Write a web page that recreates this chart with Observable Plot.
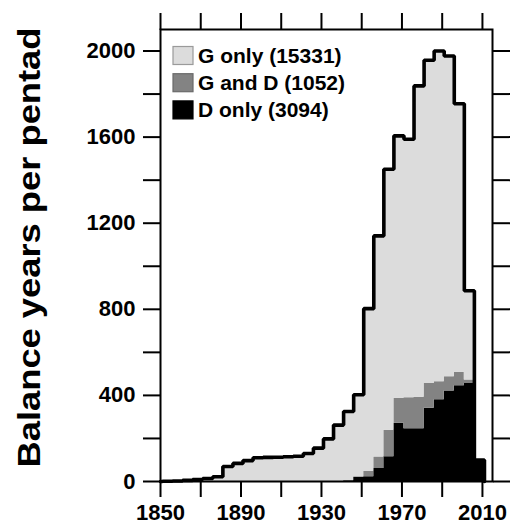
<!DOCTYPE html>
<html><head><meta charset="utf-8">
<script src="https://cdn.jsdelivr.net/npm/d3@7"></script>
<script src="https://cdn.jsdelivr.net/npm/@observablehq/plot@0.6"></script>
<style>
body{margin:0;background:#fff;}
#chart svg{font-family:"Liberation Sans",Arial,Helvetica,sans-serif;font-weight:bold;}
</style>
</head><body><div id="chart"></div>
<script>
const pentadStart = [1851,1856,1861,1866,1871,1876,1881,1886,1891,1896,1901,1906,1911,1916,1921,1926,1931,1936,1941,1946,1951,1956,1961,1966,1971,1976,1981,1986,1991,1996,2001,2006];
const gOnly = [1,2,5,9,14,22,70,84,97,110,112,113,115,117,130,155,198,262,321,381,755,1027,1213,1219,1201,1447,1502,1537,1490,1248,414,0];
const gAndD = [0,0,0,0,0,0,0,0,0,0,0,0,0,0,0,0,0,0,0,2,26,54,123,116,144,146,115,83,67,62,17,0];
const dOnly = [0,0,0,0,0,0,0,0,0,0,0,0,0,0,0,0,0,0,4,20,22,60,115,271,245,245,340,380,420,445,455,100];
const categories = ["D only","G and D","G only"];
const legendLabels = ["G only (15331)","G and D (1052)","D only (3094)"];
const legendKeys = ["G only","G and D","D only"];
const fills = {"G only":"#dcdcdc","G and D":"#838383","D only":"#000000"};
const swatchStroke = {"G only":"#9a9a9a","G and D":"#6a6a6a","D only":"#000000"};
const xTicks = [1850,1870,1890,1910,1930,1950,1970,1990,2010];
const xLabels = [1850,1890,1930,1970,2010];
const yTicks = [0,200,400,600,800,1000,1200,1400,1600,1800,2000];
const yLabels = [0,400,800,1200,1600,2000];
const yTitle = "Balance years per pentad";
const pentadWidth = 5;

const series = {"G only": gOnly, "G and D": gAndD, "D only": dOnly};
const rows = [];
for (const c of categories) {
  const vals = series[c];
  pentadStart.forEach((yr, i) => rows.push({year: yr, value: vals[i], cat: c}));
  rows.push({year: pentadStart[pentadStart.length-1] + pentadWidth, value: vals[vals.length-1], cat: c});
}
const totals = pentadStart.map((yr, i) => gOnly[i] + gAndD[i] + dOnly[i]);
const outline = [{year: 1850, value: 0}];
pentadStart.forEach((yr, i) => outline.push({year: yr, value: totals[i]}));
const lastEnd = pentadStart[pentadStart.length-1] + pentadWidth;
outline.push({year: lastEnd, value: totals[totals.length-1]});
outline.push({year: lastEnd, value: 0});

const chart = Plot.plot({
  width: 512, height: 527,
  marginLeft: 160, marginRight: 20, marginTop: 29, marginBottom: 46,
  x: {domain: [1850, 2015]},
  y: {domain: [0, 2100]},
  color: {domain: Object.keys(fills), range: Object.values(fills)},
  style: {background: "white", color: "black", fontSize: "22px", fontWeight: "bold", fontFamily: "'Liberation Sans', Arial, sans-serif"},
  marks: [
    Plot.areaY(rows, {x: "year", y: "value", z: "cat", fill: "cat", curve: "step-after", order: categories}),
    Plot.line(outline, {x: "year", y: "value", curve: "step-after", stroke: "black", strokeWidth: 3.6, strokeLinejoin: "miter"}),
    Plot.frame({stroke: "black", strokeWidth: 2}),
    Plot.axisX({ticks: xTicks, tickSize: 16, tickPadding: 7, tickFormat: d => xLabels.includes(d) ? String(d) : "", strokeWidth: 2, fontSize: 22, label: null}),
    Plot.axisX({anchor: "top", ticks: xTicks, tickSize: 17, tickFormat: () => "", strokeWidth: 2, label: null}),
    Plot.axisY({ticks: yTicks, tickSize: 17, tickPadding: 8, tickFormat: d => yLabels.includes(d) ? String(d) : "", strokeWidth: 2, fontSize: 22, label: null}),
    Plot.axisY({anchor: "right", ticks: yTicks, tickSize: 17, tickFormat: () => "", strokeWidth: 2, label: null}),
    Plot.text([yTitle], {frameAnchor: "bottom-left", dx: -121, dy: -14, rotate: -90, textAnchor: "start", fontSize: 32, fontWeight: "bold", text: d => d})
  ]
});
document.getElementById("chart").appendChild(chart);

// stretch y title to match reference length
d3.select(chart).selectAll("text").filter(function(){ return this.textContent === yTitle; })
  .attr("textLength", 440).attr("lengthAdjust", "spacingAndGlyphs");

// legend
const lg = d3.select(chart).append("g").attr("text-anchor", "start");
legendKeys.forEach((k, i) => {
  const cy = 55.5 + i * 27.2;
  lg.append("rect").attr("x", 173).attr("y", cy - 9).attr("width", 20).attr("height", 18)
    .attr("fill", fills[k]).attr("stroke", swatchStroke[k]).attr("stroke-width", 1.2);
  lg.append("text").attr("x", 198).attr("y", cy + 7.3).attr("font-size", 21).attr("font-weight", "bold")
    .attr("text-anchor", "start").attr("fill", "black").text(legendLabels[i]);
});
</script>
</body></html>
